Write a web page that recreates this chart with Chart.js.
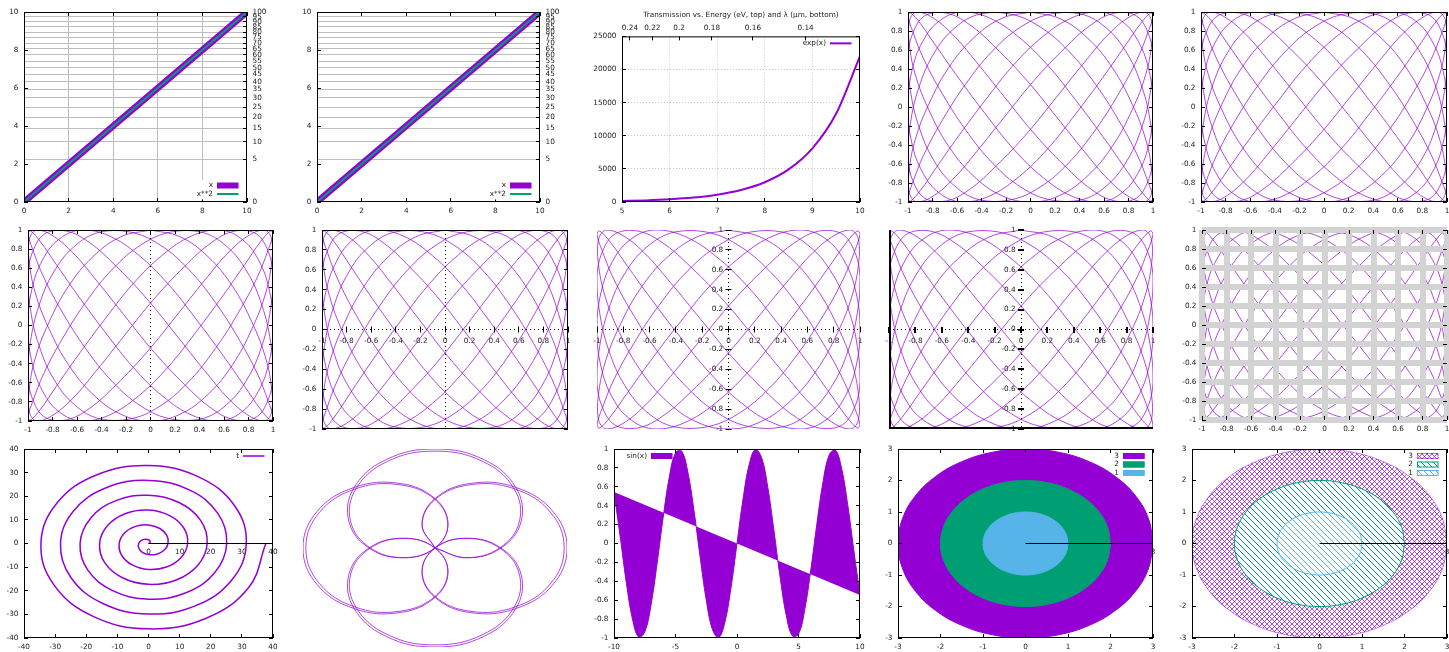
<!DOCTYPE html>
<html>
<head>
<meta charset="utf-8">
<title>gnuplot panels</title>
<script src="https://cdn.jsdelivr.net/npm/chart.js@4.4.1/dist/chart.umd.min.js"></script>
<style>
  html, body { margin: 0; padding: 0; background: #fff; }
  body { position: relative; width: 1449px; height: 652px; overflow: hidden; }
  canvas { position: absolute; }
</style>
</head>
<body>
<script>
const PURPLE = '#9400d3';
const THIN = 'rgba(148, 0, 211, 0.72)';
const GREEN = '#009e73';
const SKY = '#56b4e9';
const INK = '#222';
const RULE = '#bdbdbd';
const FONT = { family: 'DejaVu Sans', size: 7.3 };
const M = 40; // canvas margin around each plot area

// row 1, panels 1-2: x and x**2 (right axis is square-root scaled)
const diagX = [0, 10];
const diagY = [0, 10];
const squareX = [0, 1, 2, 3, 4, 5, 6, 7, 8, 9, 10];
const squareY = [0, 1, 4, 9, 16, 25, 36, 49, 64, 81, 100];
const tenTicks = [0, 2, 4, 6, 8, 10];
const squareTicks = [0, 5, 10, 15, 20, 25, 30, 35, 40, 45, 50, 55, 60, 65, 70, 75, 80, 85, 90, 95, 100];

// row 1, panel 3: exp(x), wavelength labels on top
const expX = [5, 5.5, 6, 6.5, 7, 7.5, 8, 8.5, 9, 9.5, 10];
const expY = [148, 245, 403, 665, 1097, 1808, 2981, 4915, 8103, 13360, 22026];
const energyTicks = [5, 6, 7, 8, 9, 10];
const transTicks = [0, 5000, 10000, 15000, 20000, 25000];
const lambdaTicks = [0.24, 0.22, 0.2, 0.18, 0.16, 0.14];

// lissajous figure used in six panels
const lissX = [
  0, 0.24, 0.47, 0.67, 0.83, 0.94, 0.99, 0.99, 0.93, 0.81,
  0.64, 0.44, 0.21, -0.03, -0.28, -0.5, -0.69, -0.85, -0.95, -1,
  -0.98, -0.91, -0.79, -0.62, -0.41, -0.17, 0.07, 0.31, 0.53, 0.72,
  0.87, 0.96, 1, 0.98, 0.9, 0.77, 0.59, 0.37, 0.14, -0.1,
  -0.34, -0.56, -0.74, -0.88, -0.97, -1, -0.97, -0.88, -0.74, -0.56,
  -0.34, -0.1, 0.14, 0.37, 0.59, 0.77, 0.9, 0.98, 1, 0.96,
  0.87, 0.72, 0.53, 0.31, 0.07, -0.17, -0.41, -0.62, -0.79, -0.91,
  -0.98, -1, -0.95, -0.85, -0.69, -0.5, -0.28, -0.03, 0.21, 0.44,
  0.64, 0.81, 0.93, 0.99, 0.99, 0.94, 0.83, 0.67, 0.47, 0.24,
  0, -0.24, -0.47, -0.67, -0.83, -0.94, -0.99, -0.99, -0.93, -0.81,
  -0.64, -0.44, -0.21, 0.03, 0.28, 0.5, 0.69, 0.85, 0.95, 1,
  0.98, 0.91, 0.79, 0.62, 0.41, 0.17, -0.07, -0.31, -0.53, -0.72,
  -0.87, -0.96, -1, -0.98, -0.9, -0.77, -0.59, -0.37, -0.14, 0.1,
  0.34, 0.56, 0.74, 0.88, 0.97, 1, 0.97, 0.88, 0.74, 0.56,
  0.34, 0.1, -0.14, -0.37, -0.59, -0.77, -0.9, -0.98, -1, -0.96,
  -0.87, -0.72, -0.53, -0.31, -0.07, 0.17, 0.41, 0.62, 0.79, 0.91,
  0.98, 1, 0.95, 0.85, 0.69, 0.5, 0.28, 0.03, -0.21, -0.44,
  -0.64, -0.81, -0.93, -0.99, -0.99, -0.94, -0.83, -0.67, -0.47, -0.24,
  0
];
const lissY = [
  1, 0.93, 0.72, 0.41, 0.03, -0.34, -0.67, -0.9, -1, -0.95,
  -0.77, -0.47, -0.1, 0.28, 0.62, 0.87, 0.99, 0.97, 0.81, 0.53,
  0.17, -0.21, -0.56, -0.83, -0.98, -0.98, -0.85, -0.59, -0.24, 0.14,
  0.5, 0.79, 0.96, 0.99, 0.88, 0.64, 0.31, -0.07, -0.44, -0.74,
  -0.94, -1, -0.91, -0.69, -0.37, 0, 0.37, 0.69, 0.91, 1,
  0.94, 0.74, 0.44, 0.07, -0.31, -0.64, -0.88, -0.99, -0.96, -0.79,
  -0.5, -0.14, 0.24, 0.59, 0.85, 0.98, 0.98, 0.83, 0.56, 0.21,
  -0.17, -0.53, -0.81, -0.97, -0.99, -0.87, -0.62, -0.28, 0.1, 0.47,
  0.77, 0.95, 1, 0.9, 0.67, 0.34, -0.03, -0.41, -0.72, -0.93,
  -1, -0.93, -0.72, -0.41, -0.03, 0.34, 0.67, 0.9, 1, 0.95,
  0.77, 0.47, 0.1, -0.28, -0.62, -0.87, -0.99, -0.97, -0.81, -0.53,
  -0.17, 0.21, 0.56, 0.83, 0.98, 0.98, 0.85, 0.59, 0.24, -0.14,
  -0.5, -0.79, -0.96, -0.99, -0.88, -0.64, -0.31, 0.07, 0.44, 0.74,
  0.94, 1, 0.91, 0.69, 0.37, 0, -0.37, -0.69, -0.91, -1,
  -0.94, -0.74, -0.44, -0.07, 0.31, 0.64, 0.88, 0.99, 0.96, 0.79,
  0.5, 0.14, -0.24, -0.59, -0.85, -0.98, -0.98, -0.83, -0.56, -0.21,
  0.17, 0.53, 0.81, 0.97, 0.99, 0.87, 0.62, 0.28, -0.1, -0.47,
  -0.77, -0.95, -1, -0.9, -0.67, -0.34, 0.03, 0.41, 0.72, 0.93,
  1
];
const unitTicks = [-1, -0.8, -0.6, -0.4, -0.2, 0, 0.2, 0.4, 0.6, 0.8, 1];

// row 3, panel 1: spiral "t"
const spiralX = [
  0, 0.45, 0.52, 0, -1.05, -2.27, -3.14, -3.17, -2.09, 0, 2.62, 4.99,
  6.28, 5.89, 3.67, 0, -4.19, -7.71, -9.42, -8.62, -5.24, 0, 5.76, 10.43,
  12.57, 11.34, 6.81, 0, -7.33, -13.15, -15.71, -14.06, -8.38, 0, 8.9, 15.87,
  18.85, 16.78, 9.95, 0, -10.47, -18.59, -21.99, -19.5, -11.52, 0, 12.04, 21.31,
  25.13, 22.22, 13.09, 0, -13.61, -24.03, -28.27, -24.94, -14.66, 0, 15.18, 26.75,
  31.42, 27.66, 16.23, 0, -16.76, -29.47, -34.56, -30.38, -17.8, 0, 18.33, 32.2,
  37.7
];
const spiralY = [
  0, 0.26, 0.91, 1.57, 1.81, 1.31, 0, -1.83, -3.63, -4.71, -4.53, -2.88,
  0, 3.4, 6.35, 7.85, 7.26, 4.45, 0, -4.97, -9.07, -11, -9.98, -6.02,
  0, 6.55, 11.79, 14.14, 12.7, 7.59, 0, -8.12, -14.51, -17.28, -15.42, -9.16,
  0, 9.69, 17.23, 20.42, 18.14, 10.73, 0, -11.26, -19.95, -23.56, -20.86, -12.3,
  0, 12.83, 22.67, 26.7, 23.58, 13.88, 0, -14.4, -25.39, -29.85, -26.3, -15.45,
  0, 15.97, 28.11, 32.99, 29.02, 17.02, 0, -17.54, -30.83, -36.13, -31.74, -18.59,
  0
];
const spiralTicks = [-40, -30, -20, -10, 0, 10, 20, 30, 40];
const raxisTicks = [0, 10, 20, 30, 40];
const raxisX = [0, 40];
const raxisY = [0, 0];

// row 3, panel 2: four-petal curve (trace starts and ends at the centre)
const petalX = [
  0, 0.239, 0.5, 0.653, 0.612, 0.37, 0, -0.37, -0.612, -0.653, -0.5, -0.239,
  0, 0.099, 0, -0.271, -0.612, -0.893, -1, -0.893, -0.612, -0.271, 0, 0.099,
  0, -0.239, -0.5, -0.653, -0.612, -0.37, 0, 0.37, 0.612, 0.653, 0.5, 0.239,
  0, -0.099, 0, 0.271, 0.612, 0.893, 1, 0.893, 0.612, 0.271, 0, -0.099,
  0
];
const petalY = [
  0, -0.099, 0, 0.271, 0.612, 0.893, 1, 0.893, 0.612, 0.271, 0, -0.099,
  0, 0.239, 0.5, 0.653, 0.612, 0.37, 0, -0.37, -0.612, -0.653, -0.5, -0.239,
  0, 0.099, 0, -0.271, -0.612, -0.893, -1, -0.893, -0.612, -0.271, 0, 0.099,
  0, -0.239, -0.5, -0.653, -0.612, -0.37, 0, 0.37, 0.612, 0.653, 0.5, 0.239,
  0
];

// row 3, panel 3: sin(x) filled closed
const sineX = [
  -10, -9.5, -9, -8.5, -8, -7.5, -7, -6.5, -6, -5.5, -5, -4.5, -4, -3.5, -3, -2.5, -2, -1.5, -1, -0.5,
  0, 0.5, 1, 1.5, 2, 2.5, 3, 3.5, 4, 4.5, 5, 5.5, 6, 6.5, 7, 7.5, 8, 8.5, 9, 9.5, 10
];
const sineY = [
  0.544, 0.075, -0.412, -0.798, -0.989, -0.938, -0.657, -0.215, 0.279, 0.706,
  0.959, 0.978, 0.757, 0.351, -0.141, -0.598, -0.909, -0.997, -0.841, -0.479,
  0,
  0.479, 0.841, 0.997, 0.909, 0.598, 0.141, -0.351, -0.757, -0.978, -0.959,
  -0.706, -0.279, 0.215, 0.657, 0.938, 0.989, 0.798, 0.412, -0.075, -0.544
];
const sineTicks = [-10, -5, 0, 5, 10];

// row 3, panels 4-5: discs of radius 3, 2, 1
const discLabels = ['3', '2', '1'];
const ring3X = [3, 2.898, 2.598, 2.121, 1.5, 0.776, 0, -0.776, -1.5, -2.121, -2.598, -2.898, -3, -2.898, -2.598, -2.121, -1.5, -0.776, 0, 0.776, 1.5, 2.121, 2.598, 2.898, 3];
const ring3Y = [0, 0.776, 1.5, 2.121, 2.598, 2.898, 3, 2.898, 2.598, 2.121, 1.5, 0.776, 0, -0.776, -1.5, -2.121, -2.598, -2.898, -3, -2.898, -2.598, -2.121, -1.5, -0.776, 0];
const ring2X = [2, 1.932, 1.732, 1.414, 1, 0.518, 0, -0.518, -1, -1.414, -1.732, -1.932, -2, -1.932, -1.732, -1.414, -1, -0.518, 0, 0.518, 1, 1.414, 1.732, 1.932, 2];
const ring2Y = [0, 0.518, 1, 1.414, 1.732, 1.932, 2, 1.932, 1.732, 1.414, 1, 0.518, 0, -0.518, -1, -1.414, -1.732, -1.932, -2, -1.932, -1.732, -1.414, -1, -0.518, 0];
const ring1X = [1, 0.966, 0.866, 0.707, 0.5, 0.259, 0, -0.259, -0.5, -0.707, -0.866, -0.966, -1, -0.966, -0.866, -0.707, -0.5, -0.259, 0, 0.259, 0.5, 0.707, 0.866, 0.966, 1];
const ring1Y = [0, 0.259, 0.5, 0.707, 0.866, 0.966, 1, 0.966, 0.866, 0.707, 0.5, 0.259, 0, -0.259, -0.5, -0.707, -0.866, -0.966, -1, -0.966, -0.866, -0.707, -0.5, -0.259, 0];
const discTicks = [-3, -2, -1, 0, 1, 2, 3];
const discRaxisTicks = [0, 1, 2, 3];
const discRaxisX = [0, 3];
const discRaxisY = [0, 0];

Chart.defaults.font.family = FONT.family;
Chart.defaults.font.size = FONT.size;
Chart.defaults.color = INK;

// y2 = x**2 drawn on a square-root axis
class SqrtScale extends Chart.LinearScale {
  static id = 'sqrt';
  getPixelForValue(value) {
    const lo = Math.sqrt(this.min), hi = Math.sqrt(this.max);
    return this.getPixelForDecimal((Math.sqrt(value) - lo) / (hi - lo));
  }
  getValueForPixel(pixel) {
    const lo = Math.sqrt(this.min), hi = Math.sqrt(this.max);
    const s = lo + this.getDecimalForPixel(pixel) * (hi - lo);
    return s * s;
  }
}

// wavelength (um) axis placed by photon energy E = 1.24 / lambda
class WavelengthScale extends Chart.LinearScale {
  static id = 'wavelength';
  getPixelForValue(value) {
    const lo = 1.24 / this.max, hi = 1.24 / this.min;
    return this.getPixelForDecimal((1.24 / value - lo) / (hi - lo));
  }
  getValueForPixel(pixel) {
    const lo = 1.24 / this.max, hi = 1.24 / this.min;
    return 1.24 / (lo + this.getDecimalForPixel(pixel) * (hi - lo));
  }
}

// border, inward tics, zero axes, grid and key the way gnuplot draws them
const frames = new Map();
const crisp = (p, w) => Math.round(p - w / 2) + w / 2;

function rule(chart, g) {
  const { ctx, chartArea: a } = chart;
  const s = chart.scales[g.scale];
  const w = g.width || 1;
  ctx.strokeStyle = g.color;
  ctx.lineWidth = w;
  ctx.setLineDash(g.dash || []);
  ctx.beginPath();
  g.values.forEach(v => {
    const p = crisp(s.getPixelForValue(v), w);
    if (s.isHorizontal()) { ctx.moveTo(p, a.top); ctx.lineTo(p, a.bottom); }
    else { ctx.moveTo(a.left, p); ctx.lineTo(a.right, p); }
  });
  ctx.stroke();
}

function border(chart, sides, w) {
  const { ctx, chartArea: a } = chart;
  const l = a.left + w / 2, r = a.right - w / 2, t = a.top + w / 2, b = a.bottom - w / 2;
  ctx.strokeStyle = '#000';
  ctx.lineWidth = w;
  ctx.setLineDash([]);
  ctx.beginPath();
  if (sides.includes('l')) { ctx.moveTo(l, a.top); ctx.lineTo(l, a.bottom); }
  if (sides.includes('r')) { ctx.moveTo(r, a.top); ctx.lineTo(r, a.bottom); }
  if (sides.includes('t')) { ctx.moveTo(a.left, t); ctx.lineTo(a.right, t); }
  if (sides.includes('b')) { ctx.moveTo(a.left, b); ctx.lineTo(a.right, b); }
  ctx.stroke();
}

function marks(chart, t) {
  const { ctx, chartArea: a } = chart;
  const s = chart.scales[t.scale];
  const w = t.width || 1, len = t.len || 4;
  ctx.strokeStyle = '#000';
  ctx.lineWidth = w;
  ctx.setLineDash([]);
  ctx.beginPath();
  s.ticks.forEach(tk => {
    const p = crisp(s.getPixelForValue(tk.value), w);
    for (const side of t.sides) {
      if (side === 'b') { ctx.moveTo(p, a.bottom); ctx.lineTo(p, a.bottom - len); }
      if (side === 't') { ctx.moveTo(p, a.top); ctx.lineTo(p, a.top + len); }
      if (side === 'l') { ctx.moveTo(a.left, p); ctx.lineTo(a.left + len, p); }
      if (side === 'r') { ctx.moveTo(a.right, p); ctx.lineTo(a.right - len, p); }
      if (side === 'h') {
        const y0 = crisp(chart.scales.y.getPixelForValue(0), w);
        ctx.moveTo(p, y0 - len / 2); ctx.lineTo(p, y0 + len / 2);
      }
      if (side === 'v') {
        const x0 = crisp(chart.scales.x.getPixelForValue(0), w);
        ctx.moveTo(x0 - len / 2, p); ctx.lineTo(x0 + len / 2, p);
      }
    }
  });
  ctx.stroke();
}

function key(chart, k) {
  const { ctx, chartArea: a } = chart;
  const n = k.items.length, row = 8.5, len = 21.5;
  const sx = k.left ? a.left + 37 : a.right - 30;
  const tx = sx - 4;
  const y0 = k.bottom ? a.bottom - 8 - (n - 1) * row : a.top + 7;
  if (k.opaque) {
    ctx.fillStyle = '#fff';
    ctx.fillRect(tx - 22, y0 - 5.5, len + 26, (n - 1) * row + 11);
  }
  ctx.font = `${FONT.size}px "${FONT.family}"`;
  ctx.textAlign = 'right';
  ctx.textBaseline = 'middle';
  k.items.forEach((it, i) => {
    const y = y0 + i * row;
    ctx.fillStyle = INK;
    ctx.fillText(it.label, tx, y);
    if (it.line) {
      ctx.strokeStyle = it.color;
      ctx.lineWidth = it.line;
      ctx.setLineDash([]);
      ctx.beginPath();
      ctx.moveTo(sx, y);
      ctx.lineTo(sx + len, y);
      ctx.stroke();
    } else {
      ctx.fillStyle = it.fill;
      ctx.fillRect(sx, y - 3, len, 6);
      if (it.edge) {
        ctx.strokeStyle = it.edge;
        ctx.lineWidth = 1;
        ctx.strokeRect(sx + 0.5, y - 2.5, len - 1, 5);
      }
    }
  });
}

const gnuFrame = {
  id: 'gnuFrame',
  beforeDatasetsDraw(chart) {
    const o = frames.get(chart.canvas.id) || {};
    chart.ctx.save();
    (o.grid || []).forEach(g => rule(chart, g));
    chart.ctx.restore();
  },
  afterDatasetsDraw(chart) {
    const o = frames.get(chart.canvas.id) || {};
    chart.ctx.save();
    if (o.border) border(chart, o.border, o.borderWidth || 1);
    (o.frontGrid || []).forEach(g => rule(chart, g));
    (o.ticks || []).forEach(t => marks(chart, t));
    if (o.key) key(chart, o.key);
    chart.ctx.restore();
  }
};

Chart.register(SqrtScale, WavelengthScale, gnuFrame);

function axis(position, min, max, tickValues, opt = {}) {
  const vertical = position === 'left' || position === 'right' ||
    (typeof position === 'object' && 'x' in position);
  const size = opt.size || M;
  return {
    type: opt.type || 'linear',
    position, min, max,
    display: opt.display !== false,
    grid: { display: false, drawTicks: false },
    border: { display: false },
    ticks: {
      display: opt.labels !== false,
      autoSkip: false, maxRotation: 0, minRotation: 0,
      padding: opt.pad !== undefined ? opt.pad : (vertical ? 5.5 : 4.5),
      color: INK, font: FONT,
      callback: v => String(v)
    },
    afterBuildTicks: s => { s.ticks = tickValues.map(v => ({ value: v })); },
    afterFit: s => {
      if (!s.options.display) return;
      if (s.isHorizontal()) s.height = size; else s.width = size;
    }
  };
}

function series(xs, ys, color, width, more) {
  return Object.assign({
    data: xs.map((x, i) => ({ x, y: ys[i] })),
    showLine: true, pointRadius: 0, fill: false,
    borderColor: color, backgroundColor: color, borderWidth: width
  }, more);
}

let panelCount = 0;
function plot(area, datasets, scales, frame, extra = {}) {
  const c = document.createElement('canvas');
  c.id = 'panel' + (++panelCount);
  c.width = area[2] - area[0] + 2 * M;
  c.height = area[3] - area[1] + 2 * M;
  c.style.left = (area[0] - M) + 'px';
  c.style.top = (area[1] - M) + 'px';
  document.body.appendChild(c);
  frames.set(c.id, frame || {});

  const padding = { left: M, right: M, top: M, bottom: M };
  Object.values(scales).forEach(s => {
    if (s.display !== false && typeof s.position === 'string') padding[s.position] = 0;
  });
  const plugins = { legend: { display: false }, tooltip: { enabled: false } };
  if (extra.title) {
    plugins.title = {
      display: true, text: extra.title, fullSize: false, color: INK,
      font: { family: FONT.family, size: FONT.size, weight: 'normal' },
      padding: { top: 0, bottom: 2.7 }
    };
    padding.top = 14.9;
  }
  new Chart(c, {
    type: 'scatter',
    data: { datasets },
    options: {
      responsive: false, animation: false, events: [],
      layout: { padding },
      plugins,
      scales
    }
  });
}

// opaque hatch tile: white ground with 1px pixel diagonals
function hatch(color, step, dirs) {
  const tile = document.createElement('canvas');
  tile.width = tile.height = step;
  const g = tile.getContext('2d');
  g.fillStyle = '#fff';
  g.fillRect(0, 0, step, step);
  g.fillStyle = color;
  for (let i = 0; i < step; i++) {
    if (dirs.includes('\\')) g.fillRect(i, i, 1, 1);
    if (dirs.includes('/')) g.fillRect(step - 1 - i, i, 1, 1);
  }
  return g.createPattern(tile, 'repeat');
}

const unitScales = () => ({ x: axis('bottom', -1, 1, unitTicks), y: axis('left', -1, 1, unitTicks) });
const boxTicks = [{ scale: 'x', sides: 'bt' }, { scale: 'y', sides: 'lr' }];
const liss = () => [series(lissX, lissY, THIN, 1, { tension: 0.4 })];
const zeroV = { scale: 'x', values: [0], color: '#000', dash: [1, 3] };
const zeroH = { scale: 'y', values: [0], color: '#000', dash: [1, 3] };

// ---------- row 1 ----------
function squarePanel(area, withXGrid) {
  const grid = [{ scale: 'y2', values: squareTicks.slice(1, -1), color: RULE }];
  if (withXGrid) grid.push({ scale: 'x', values: tenTicks.slice(1, -1), color: RULE });
  plot(area,
    [series(squareX, squareY, GREEN, 2, { yAxisID: 'y2' }),
     series(diagX, diagY, PURPLE, 6.5, { yAxisID: 'y' })],
    {
      x: axis('bottom', 0, 10, tenTicks),
      y: axis('left', 0, 10, tenTicks),
      y2: axis('right', 0, 100, squareTicks, { type: 'sqrt' })
    },
    {
      grid, border: 'lrtb',
      ticks: [{ scale: 'x', sides: 'bt' }, { scale: 'y', sides: 'l' }, { scale: 'y2', sides: 'r' }],
      key: { bottom: true, opaque: true, items: [
        { label: 'x', fill: PURPLE },
        { label: 'x**2', color: GREEN, line: 2 }
      ] }
    });
}
squarePanel([24, 12, 247, 202], true);
squarePanel([317, 12, 540, 202], false);

plot([622, 36, 860, 202],
  [series(expX, expY, PURPLE, 2, { cubicInterpolationMode: 'monotone' })],
  {
    x: axis('bottom', 5, 10, energyTicks),
    x2: axis('top', 0.124, 0.248, lambdaTicks, { type: 'wavelength', size: 14, pad: 3.6 }),
    y: axis('left', 0, 25000, transTicks)
  },
  {
    grid: [
      { scale: 'x', values: energyTicks.slice(1, -1), color: '#c8c8c8', dash: [1, 2] },
      { scale: 'y', values: transTicks.slice(1, -1), color: '#c8c8c8', dash: [1, 2] }
    ],
    border: 'lrtb',
    ticks: [{ scale: 'x', sides: 'b' }, { scale: 'x2', sides: 't' }, { scale: 'y', sides: 'lr' }],
    key: { items: [{ label: 'exp(x)', color: PURPLE, line: 2 }] }
  },
  { title: 'Transmission vs. Energy (eV, top) and λ (μm, bottom)' });

plot([908, 12, 1153, 202], liss(), unitScales(), { border: 'lrtb', ticks: boxTicks });
plot([1201, 12, 1447, 202], liss(), unitScales(), { border: 'lrtb', ticks: boxTicks });

// ---------- row 2 ----------
plot([28, 230, 273, 421], liss(), unitScales(), { border: 'lrtb', grid: [zeroV], ticks: boxTicks });

plot([322, 230, 568, 429], liss(),
  { x: axis({ y: 0 }, -1, 1, unitTicks, { pad: 7.5 }), y: axis('left', -1, 1, unitTicks) },
  { border: 'lrtb', grid: [zeroV, zeroH],
    ticks: [{ scale: 'x', sides: 'h', len: 6 }, { scale: 'y', sides: 'lr' }] });

plot([597, 230, 860, 429], liss(),
  { x: axis({ y: 0 }, -1, 1, unitTicks, { pad: 7.5 }), y: axis({ x: -0.04 }, -1, 1, unitTicks) },
  { grid: [zeroV, zeroH],
    ticks: [{ scale: 'x', sides: 'h', len: 6 }, { scale: 'y', sides: 'v', len: 6 }] });

plot([889, 230, 1153, 429], liss(),
  { x: axis({ y: 0 }, -1, 1, unitTicks, { pad: 7.5 }), y: axis({ x: -0.04 }, -1, 1, unitTicks) },
  { border: 'lb', borderWidth: 2, grid: [zeroV, zeroH],
    ticks: [{ scale: 'x', sides: 'h', len: 6, width: 2 }, { scale: 'y', sides: 'v', len: 6, width: 2 }] });

plot([1202, 230, 1447, 420], liss(), unitScales(), {
  border: 'lrtb',
  frontGrid: [
    { scale: 'x', values: unitTicks, color: '#d3d3d3', width: 6 },
    { scale: 'y', values: unitTicks, color: '#d3d3d3', width: 6 }
  ],
  ticks: boxTicks
});

// ---------- row 3 ----------
plot([24, 449, 273, 638],
  [series(raxisX, raxisY, '#000', 1), series(spiralX, spiralY, PURPLE, 1.5, { tension: 0.4 })],
  {
    x: axis('bottom', -40, 40, spiralTicks),
    y: axis('left', -40, 40, spiralTicks),
    xr: axis({ y: 0 }, -40, 40, raxisTicks, { pad: 4.5 })
  },
  { border: 'lrtb', ticks: boxTicks, key: { items: [{ label: 't', color: PURPLE, line: 1.5 }] } });

plot([303, 449, 567, 647],
  [series(petalX, petalY, THIN, 1, { tension: 0.4 }),
   series(petalX, petalY, THIN, 1, { tension: 0.4, xAxisID: 'x2', yAxisID: 'y2' })],
  {
    x: { type: 'linear', display: false, min: -1, max: 1 },
    y: { type: 'linear', display: false, min: -1, max: 1 },
    x2: { type: 'linear', display: false, min: -1.022, max: 1.022 },
    y2: { type: 'linear', display: false, min: -1.022, max: 1.022 }
  },
  {});

plot([614, 449, 860, 638],
  [series(sineX, sineY, PURPLE, 1, { tension: 0.4, fill: 'shape' })],
  { x: axis('bottom', -10, 10, sineTicks), y: axis('left', -1, 1, unitTicks) },
  { border: 'lrtb', ticks: boxTicks, key: { left: true, items: [{ label: 'sin(x)', fill: PURPLE }] } });

function discPanel(area, fills, edges) {
  plot(area,
    [series(discRaxisX, discRaxisY, '#000', 1),
     series(ring1X, ring1Y, edges[2], 1, { tension: 0.4, fill: 'shape', backgroundColor: fills[2] }),
     series(ring2X, ring2Y, edges[1], 1, { tension: 0.4, fill: 'shape', backgroundColor: fills[1] }),
     series(ring3X, ring3Y, edges[0], 1, { tension: 0.4, fill: 'shape', backgroundColor: fills[0] })],
    {
      x: axis('bottom', -3, 3, discTicks),
      y: axis('left', -3, 3, discTicks),
      xr: axis({ y: 0 }, -3, 3, discRaxisTicks, { pad: 4.5 })
    },
    { border: 'lrtb', ticks: boxTicks,
      key: { items: discLabels.map((label, i) => ({ label, fill: fills[i], edge: edges[i] })) } });
}
discPanel([898, 449, 1153, 638], [PURPLE, GREEN, SKY], [PURPLE, GREEN, SKY]);
discPanel([1192, 449, 1447, 638],
  [hatch('rgba(148,0,211,0.7)', 5, '\\/'), hatch(GREEN, 6, '\\'), hatch(SKY, 6, '\\')],
  ['rgba(148,0,211,0.5)', GREEN, SKY]);
</script>
</body>
</html>
